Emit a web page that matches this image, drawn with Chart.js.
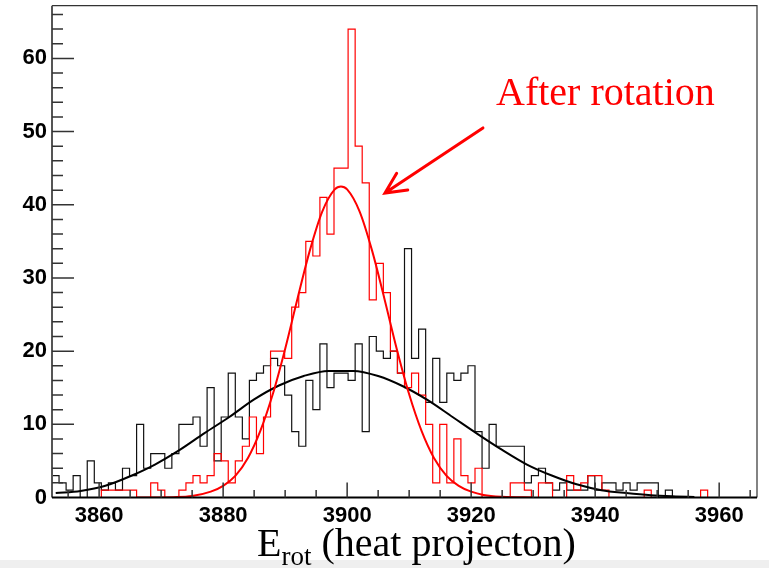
<!DOCTYPE html>
<html>
<head>
<meta charset="utf-8">
<script src="https://cdn.jsdelivr.net/npm/chart.js@4/dist/chart.umd.min.js"></script>
<style>
  body { margin: 0; background: #fff; }
  #wrap { position: relative; width: 769px; height: 568px; overflow: hidden; }
  #graf { position: absolute; left: 0; top: 0; }
  .faixa { position: absolute; left: 0; top: 560px; width: 769px; height: 8px; background: #efefef; }
  .rotulo { position: absolute; font-family: "Liberation Serif", "Times New Roman", serif; line-height: 40px; white-space: nowrap; }
  #titulo-x { left: 257px; top: 523px; font-size: 40px; color: #000; }
  #titulo-x span { font-size: 27px; vertical-align: -9px; }
  #nota { left: 496px; top: 72px; font-size: 40px; color: #ff0000; }
</style>
</head>
<body>
<div id="wrap">
  <canvas id="graf" width="769" height="568"></canvas>
  <div class="faixa"></div>
  <div class="rotulo" id="titulo-x">E<span>rot</span> (heat projecton)</div>
  <div class="rotulo" id="nota">After rotation</div>
</div>
<script>
// histograma: 100 bins
const inicioBin = 3852.4
const larguraBin = 1.137
const fimEixo = 3966.1
const maxY = 67.2

const rotulosX = [3860, 3880, 3900, 3920, 3940, 3960]
const rotulosY = [0, 10, 20, 30, 40, 50, 60]

// antes da rotacao (preto)
const contagemAntes = [
  3, 2, 1, 3, 0, 5, 2, 1, 2, 1,
  4, 3, 10, 4, 6, 6, 4, 6, 10, 10,
  11, 7, 15, 5, 11, 17, 11, 8, 16, 17,
  18, 19, 18, 14, 9, 7, 16, 12, 21, 15,
  17, 17, 16, 21, 9, 22, 20, 19, 20, 17,
  34, 19, 23, 13, 19, 13, 17, 16, 17, 18,
  9, 4, 10, 7, 7, 7, 7, 2, 3, 4,
  2, 1, 2, 1, 1, 1, 3, 1, 2, 2,
  1, 2, 1, 2, 2, 2, 0, 1, 0, 0,
  0, 0, 0, 0, 0, 0, 0, 0, 0, 0
]

// depois da rotacao (vermelho)
const contagemDepois = [
  0, 0, 0, 0, 0, 0, 0, 1, 1, 1,
  1, 1, 0, 0, 2, 1, 0, 0, 1, 2,
  3, 2, 3, 6, 5, 2, 5, 7, 11, 6,
  11, 20, 20, 19, 26, 28, 35, 33, 41, 36,
  45, 45, 64, 48, 43, 27, 32, 28, 20, 17,
  15, 17, 14, 10, 2, 10, 2, 8, 3, 2,
  4, 0, 0, 0, 0, 2, 2, 1, 0, 2,
  2, 0, 0, 3, 1, 2, 3, 3, 1, 0,
  0, 0, 0, 0, 1, 0, 0, 0, 0, 0,
  0, 0, 1, 0, 0, 0, 0, 0, 0, 0
]

// curvas de ajuste
const ajusteAntesX = [3853, 3857, 3861, 3865, 3869, 3873, 3877, 3881, 3885, 3889, 3893, 3897, 3901, 3905, 3909, 3913, 3917, 3921, 3925, 3929, 3933, 3937, 3941, 3945, 3949, 3953, 3956]
const ajusteAntesY = [0.6, 0.9, 1.6, 2.9, 4.5, 6.5, 8.8, 11.0, 13.4, 15.3, 16.6, 17.3, 17.3, 16.6, 15.2, 13.3, 11.0, 8.7, 6.5, 4.5, 3.0, 1.8, 1.0, 0.6, 0.3, 0.15, 0.08]

const ajusteDepoisX = [3866, 3872, 3875, 3878, 3880, 3882, 3884, 3886, 3888, 3890, 3892, 3894, 3896, 3898, 3899, 3900, 3902, 3904, 3906, 3908, 3910, 3912, 3914, 3916, 3918, 3920, 3922, 3925, 3930]
const ajusteDepoisY = [0, 0.05, 0.2, 0.8, 1.6, 3.0, 5.4, 9.1, 14.1, 20.3, 27.2, 33.8, 39.1, 42.1, 42.5, 42.1, 39.1, 33.8, 27.2, 20.3, 14.1, 9.1, 5.4, 3.0, 1.6, 0.8, 0.35, 0.1, 0.01]

function degraus(contagens) {
    const pts = contagens.map((c, i) => ({x: inicioBin + i * larguraBin, y: c}))
    pts.push({x: inicioBin + contagens.length * larguraBin, y: contagens[contagens.length - 1]})
    return pts
}

function pontos(xs, ys) {
    return xs.map((v, i) => ({x: v, y: ys[i]}))
}

// moldura, ticks para dentro e seta
const moldura = {
    id: 'moldura',
    afterDatasetsDraw(chart, args, opts) {
        const {ctx, chartArea: a, scales: {x, y}} = chart
        ctx.save()

        ctx.strokeStyle = '#333'
        ctx.lineWidth = 1.2
        ctx.beginPath()
        ctx.moveTo(a.left, a.top)
        ctx.lineTo(a.right, a.top)
        ctx.lineTo(a.right, a.bottom)
        ctx.stroke()

        ctx.strokeStyle = '#555'
        ctx.lineWidth = 2
        ctx.beginPath()
        ctx.moveTo(a.left, a.top)
        ctx.lineTo(a.left, a.bottom)
        ctx.stroke()

        ctx.strokeStyle = '#000'
        ctx.beginPath()
        ctx.moveTo(a.left, a.bottom)
        ctx.lineTo(a.right, a.bottom)
        ctx.stroke()

        ctx.strokeStyle = '#333'
        ctx.lineWidth = 1.5
        ctx.beginPath()
        for (let v = 3855; v < fimEixo; v += 5) {
            const px = x.getPixelForValue(v)
            const tam = (v % 20 === 0) ? 15 : 7.5
            ctx.moveTo(px, a.bottom)
            ctx.lineTo(px, a.bottom - tam)
        }
        for (let v = 2; v < maxY; v += 2) {
            const py = y.getPixelForValue(v)
            const tam = (v % 10 === 0) ? 22 : 11
            ctx.moveTo(a.left, py)
            ctx.lineTo(a.left + tam, py)
        }
        ctx.stroke()

        // seta vermelha
        const px0 = x.getPixelForValue(opts.ponta[0]), py0 = y.getPixelForValue(opts.ponta[1])
        const px1 = x.getPixelForValue(opts.cauda[0]), py1 = y.getPixelForValue(opts.cauda[1])
        const ang = Math.atan2(py1 - py0, px1 - px0)
        ctx.strokeStyle = '#ff0000'
        ctx.lineWidth = 3
        ctx.lineCap = 'round'
        ctx.beginPath()
        ctx.moveTo(px1, py1)
        ctx.lineTo(px0, py0)
        ctx.moveTo(px0 + 23 * Math.cos(ang - 0.45), py0 + 23 * Math.sin(ang - 0.45))
        ctx.lineTo(px0, py0)
        ctx.lineTo(px0 + 23 * Math.cos(ang + 0.45), py0 + 23 * Math.sin(ang + 0.45))
        ctx.stroke()

        ctx.restore()
    }
}

const fonteEixo = {family: 'Liberation Sans', size: 22, weight: 'bold'}

function semMargem(s) {
    s.paddingTop = 0
    s.paddingBottom = 0
    s.paddingLeft = 0
    s.paddingRight = 0
}

const ctx = document.getElementById('graf').getContext('2d')

new Chart(ctx, {
    type: 'line',
    data: {
        datasets: [
            {
                label: 'antes',
                data: degraus(contagemAntes),
                stepped: 'before',
                borderColor: '#111',
                borderWidth: 1.2,
                pointRadius: 0,
                order: 4
            },
            {
                label: 'depois',
                data: degraus(contagemDepois),
                stepped: 'before',
                borderColor: '#ff0000',
                borderWidth: 1.2,
                pointRadius: 0,
                order: 3
            },
            {
                label: 'ajuste antes',
                data: pontos(ajusteAntesX, ajusteAntesY),
                borderColor: '#000',
                borderWidth: 2,
                pointRadius: 0,
                cubicInterpolationMode: 'monotone',
                order: 2
            },
            {
                label: 'ajuste depois',
                data: pontos(ajusteDepoisX, ajusteDepoisY),
                borderColor: '#ff0000',
                borderWidth: 2,
                pointRadius: 0,
                cubicInterpolationMode: 'monotone',
                order: 1
            }
        ]
    },
    options: {
        responsive: false,
        animation: false,
        devicePixelRatio: 1,
        layout: {padding: {top: 5.7, right: 12, left: 0, bottom: 0}},
        plugins: {
            legend: {display: false},
            tooltip: {enabled: false},
            moldura: {ponta: [3906.1, 41.6], cauda: [3921.9, 50.5]}
        },
        scales: {
            x: {
                type: 'linear',
                min: inicioBin,
                max: fimEixo,
                grid: {display: false, drawTicks: false},
                border: {display: false},
                afterBuildTicks: s => { s.ticks = rotulosX.map(v => ({value: v})) },
                afterFit: s => { s.height = 70.5; semMargem(s) },
                ticks: {
                    padding: 5,
                    color: '#000',
                    font: fonteEixo,
                    autoSkip: false,
                    maxRotation: 0,
                    callback: v => String(v)
                }
            },
            y: {
                min: 0,
                max: maxY,
                grid: {display: false, drawTicks: false},
                border: {display: false},
                afterBuildTicks: s => { s.ticks = rotulosY.map(v => ({value: v})) },
                afterFit: s => { s.width = 52; semMargem(s) },
                ticks: {
                    padding: 5,
                    color: '#000',
                    font: fonteEixo,
                    callback: v => String(v)
                }
            }
        }
    },
    plugins: [moldura]
})
</script>
</body>
</html>
